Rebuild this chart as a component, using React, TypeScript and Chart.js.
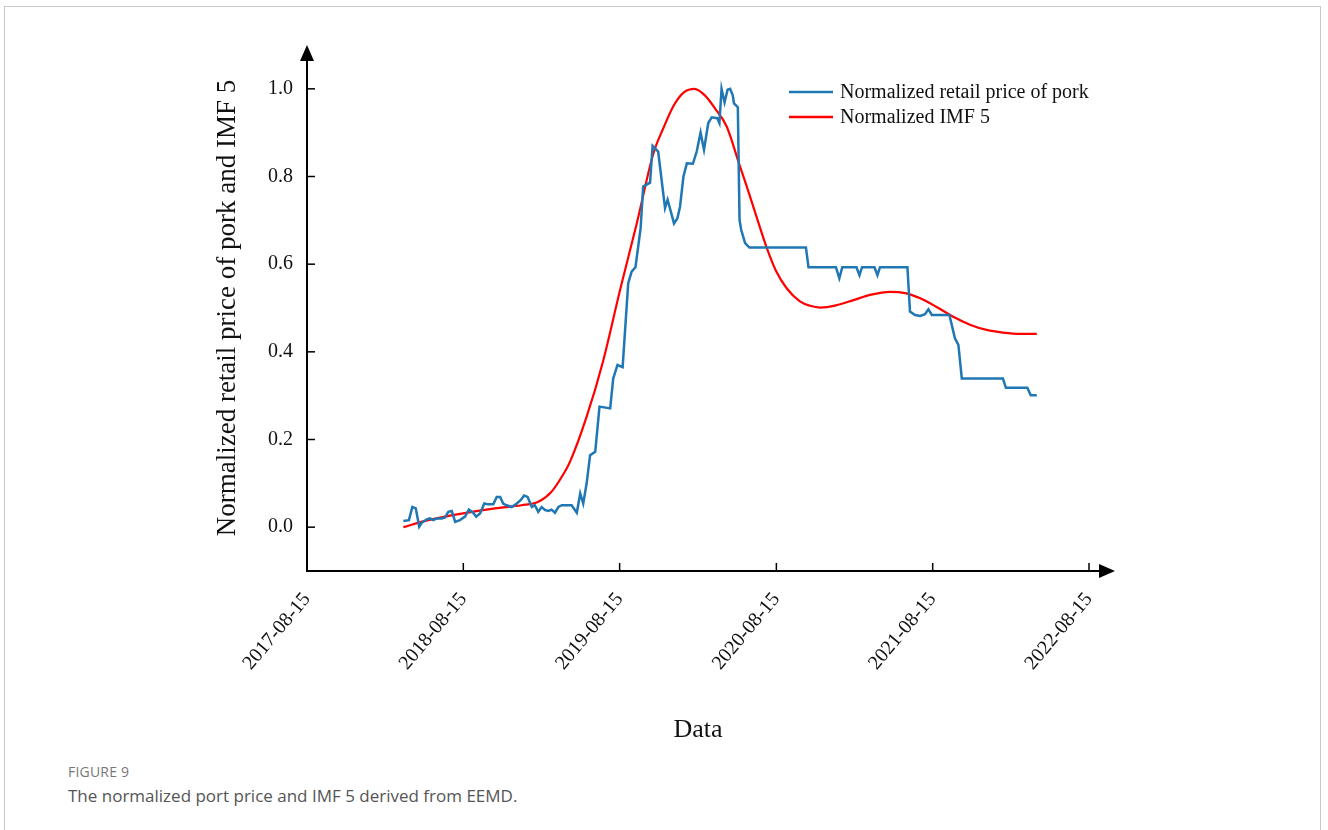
import React, { useEffect, useRef } from "react";
import { Chart, registerables } from "chart.js";

Chart.register(...registerables);

const START_DATE = "2017-08-15";
const xTickLabels = ["2017-08-15", "2018-08-15", "2019-08-15", "2020-08-15", "2021-08-15", "2022-08-15"];
const yTickValues = [0, 0.2, 0.4, 0.6, 0.8, 1.0];
const seriesLabels = ["Normalized retail price of pork", "Normalized IMF 5"];
const seriesColors = ["#1f77b4", "#ff0000"];
const xTitle = "Data";
const yTitle = "Normalized retail price of pork and IMF 5";

const priceDates = [
  "2018-03-28", "2018-04-10", "2018-04-18", "2018-04-26", "2018-05-04", "2018-05-10", "2018-05-22", "2018-05-29",
  "2018-06-06", "2018-06-14", "2018-06-26", "2018-07-03", "2018-07-11", "2018-07-19", "2018-07-27", "2018-08-07",
  "2018-08-19", "2018-08-28", "2018-09-07", "2018-09-14", "2018-09-23", "2018-10-03", "2018-10-12", "2018-10-24",
  "2018-11-01", "2018-11-09", "2018-11-16", "2018-11-24", "2018-12-06", "2018-12-18", "2018-12-28", "2019-01-04",
  "2019-01-12", "2019-01-22", "2019-01-29", "2019-02-06", "2019-02-14", "2019-02-22", "2019-03-02", "2019-03-09",
  "2019-03-17", "2019-03-25", "2019-04-02", "2019-04-25", "2019-05-07", "2019-05-15", "2019-05-22", "2019-05-30",
  "2019-06-07", "2019-06-19", "2019-06-29", "2019-07-24", "2019-07-31", "2019-08-10", "2019-08-22", "2019-09-04",
  "2019-09-12", "2019-09-21", "2019-10-03", "2019-10-09", "2019-10-25", "2019-10-31", "2019-11-13", "2019-11-29",
  "2019-12-05", "2019-12-20", "2019-12-28", "2020-01-03", "2020-01-11", "2020-01-19", "2020-02-02", "2020-02-11",
  "2020-02-20", "2020-02-28", "2020-03-09", "2020-03-17", "2020-03-30", "2020-04-04", "2020-04-09", "2020-04-16",
  "2020-04-23", "2020-04-29", "2020-05-05", "2020-05-08", "2020-05-17", "2020-05-21", "2020-05-25", "2020-06-03",
  "2020-06-13", "2020-10-23", "2020-10-29", "2021-01-01", "2021-01-09", "2021-01-16", "2021-02-18", "2021-02-25",
  "2021-03-03", "2021-04-01", "2021-04-08", "2021-04-14", "2021-06-17", "2021-06-23", "2021-07-05", "2021-07-17",
  "2021-07-28", "2021-08-05", "2021-08-13", "2021-09-23", "2021-10-06", "2021-10-14", "2021-10-22", "2022-01-26",
  "2022-02-02", "2022-03-24", "2022-04-01", "2022-04-15",
];
const priceValues = [
  0.014, 0.016, 0.046, 0.043, 0.001, 0.010, 0.018, 0.020,
  0.016, 0.020, 0.020, 0.022, 0.035, 0.037, 0.012, 0.016,
  0.024, 0.040, 0.033, 0.024, 0.031, 0.054, 0.052, 0.052,
  0.069, 0.069, 0.054, 0.050, 0.046, 0.054, 0.063, 0.072,
  0.069, 0.046, 0.050, 0.035, 0.046, 0.039, 0.037, 0.040,
  0.033, 0.046, 0.050, 0.050, 0.033, 0.077, 0.054, 0.100,
  0.164, 0.172, 0.275, 0.271, 0.339, 0.370, 0.365, 0.556,
  0.583, 0.593, 0.682, 0.777, 0.786, 0.870, 0.857, 0.728,
  0.747, 0.693, 0.705, 0.731, 0.800, 0.830, 0.829, 0.857,
  0.900, 0.861, 0.922, 0.935, 0.933, 0.922, 1.000, 0.969,
  0.998, 1.000, 0.986, 0.967, 0.958, 0.701, 0.678, 0.648,
  0.638, 0.638, 0.593, 0.593, 0.568, 0.593, 0.593, 0.575,
  0.593, 0.593, 0.575, 0.593, 0.593, 0.492, 0.484, 0.482,
  0.486, 0.497, 0.484, 0.484, 0.431, 0.416, 0.339, 0.339,
  0.318, 0.318, 0.301, 0.301,
];

const imfDates = [
  "2018-03-28", "2018-05-25", "2018-08-11", "2018-10-28", "2018-12-29", "2019-02-06", "2019-03-09", "2019-04-02",
  "2019-04-21", "2019-05-30", "2019-07-08", "2019-08-16", "2019-09-24", "2019-11-02", "2019-11-25", "2019-12-20",
  "2020-01-12", "2020-02-06", "2020-03-01", "2020-03-25", "2020-04-21", "2020-05-22", "2020-06-07", "2020-06-29",
  "2020-07-24", "2020-08-14", "2020-09-08", "2020-10-09", "2020-11-02", "2020-11-25", "2021-01-01", "2021-02-11",
  "2021-03-22", "2021-05-08", "2021-06-12", "2021-07-17", "2021-08-23", "2021-10-02", "2021-11-10", "2021-12-19",
  "2022-01-26", "2022-03-07", "2022-04-15",
];
const imfValues = [
  0.000, 0.016, 0.031, 0.043, 0.050, 0.058, 0.081, 0.115,
  0.149, 0.252, 0.381, 0.541, 0.693, 0.853, 0.910, 0.963,
  0.992, 1.000, 0.985, 0.955, 0.914, 0.823, 0.777, 0.710,
  0.636, 0.585, 0.545, 0.515, 0.505, 0.501, 0.506, 0.518,
  0.530, 0.537, 0.534, 0.522, 0.503, 0.480, 0.462, 0.450,
  0.444, 0.441, 0.441,
];

const dayOf = (s: string) => Math.round((Date.parse(s) - Date.parse(START_DATE)) / 86400000);
const xTickValues = xTickLabels.map(dayOf);
const SERIF = "'Liberation Serif', 'Times New Roman', Times, serif";

const axesPlugin = {
  id: "axesArrows",
  afterDraw(chart: any) {
    const { ctx, chartArea, scales } = chart;
    const xs = scales.x;
    const ys = scales.y;
    const x0 = chartArea.left;
    const yb = chartArea.bottom;
    ctx.save();
    ctx.strokeStyle = "#000";
    ctx.fillStyle = "#000";
    ctx.lineWidth = 2;
    // y axis + arrow
    ctx.beginPath();
    ctx.moveTo(x0, yb);
    ctx.lineTo(x0, chartArea.top + 12);
    ctx.stroke();
    ctx.beginPath();
    ctx.moveTo(x0, chartArea.top);
    ctx.lineTo(x0 - 7, chartArea.top + 16);
    ctx.lineTo(x0 + 7, chartArea.top + 16);
    ctx.closePath();
    ctx.fill();
    // x axis + arrow
    const xEnd = chartArea.right + 26;
    ctx.beginPath();
    ctx.moveTo(x0 - 1, yb);
    ctx.lineTo(xEnd - 12, yb);
    ctx.stroke();
    ctx.beginPath();
    ctx.moveTo(xEnd, yb);
    ctx.lineTo(xEnd - 16, yb - 7);
    ctx.lineTo(xEnd - 16, yb + 7);
    ctx.closePath();
    ctx.fill();
    // inward ticks
    ctx.lineWidth = 1.5;
    yTickValues.forEach((v) => {
      const py = ys.getPixelForValue(v);
      ctx.beginPath();
      ctx.moveTo(x0, py);
      ctx.lineTo(x0 + 8, py);
      ctx.stroke();
    });
    xTickValues.forEach((v) => {
      const px = xs.getPixelForValue(v);
      ctx.beginPath();
      ctx.moveTo(px, yb);
      ctx.lineTo(px, yb - 8);
      ctx.stroke();
    });
    // legend
    const lx = chartArea.left + 482;
    const ly = chartArea.top + 47;
    ctx.font = `20px ${SERIF}`;
    ctx.textBaseline = "middle";
    ctx.textAlign = "left";
    seriesLabels.forEach((label, i) => {
      const y = ly + i * 25;
      ctx.strokeStyle = seriesColors[i];
      ctx.lineWidth = 2.5;
      ctx.beginPath();
      ctx.moveTo(lx, y);
      ctx.lineTo(lx + 44, y);
      ctx.stroke();
      ctx.fillStyle = "#111";
      ctx.fillText(label, lx + 51, y + 1);
    });
    ctx.restore();
  },
};

export default function App() {
  const canvasRef = useRef<HTMLCanvasElement | null>(null);

  useEffect(() => {
    if (!canvasRef.current) return;
    const priceData = priceDates.map((d, i) => ({ x: dayOf(d), y: priceValues[i] }));
    const imfData = imfDates.map((d, i) => ({ x: dayOf(d), y: imfValues[i] }));
    const chart = new Chart(canvasRef.current, {
      type: "line",
      data: {
        datasets: [
          {
            label: seriesLabels[0],
            data: priceData,
            borderColor: seriesColors[0],
            borderWidth: 2.5,
            pointRadius: 0,
            tension: 0,
            fill: false,
          },
          {
            label: seriesLabels[1],
            data: imfData,
            borderColor: seriesColors[1],
            borderWidth: 2.2,
            pointRadius: 0,
            cubicInterpolationMode: "monotone",
            fill: false,
          },
        ],
      },
      options: {
        animation: false,
        responsive: false,
        devicePixelRatio: 1,
        layout: { padding: { left: 0, right: 239, top: 45, bottom: 0 } },
        plugins: { legend: { display: false }, tooltip: { enabled: false } },
        scales: {
          x: {
            type: "linear",
            min: 0,
            max: dayOf("2022-08-15"),
            grid: { display: false, drawTicks: false },
            border: { display: false },
            afterFit: (s: any) => {
              s.height = 189;
            },
            afterBuildTicks: (s: any) => {
              s.ticks = xTickValues.map((v) => ({ value: v }));
            },
            ticks: {
              autoSkip: false,
              minRotation: 50,
              maxRotation: 50,
              padding: 17,
              color: "#111",
              font: { family: SERIF, size: 20 },
              callback: (_v: any, i: number) => xTickLabels[i],
            },
            title: {
              display: true,
              text: xTitle,
              color: "#111",
              font: { family: SERIF, size: 26 },
              padding: { top: 0, bottom: 14 },
            },
          },
          y: {
            type: "linear",
            min: -0.1,
            max: 1.1,
            grid: { display: false, drawTicks: false },
            border: { display: false },
            afterFit: (s: any) => {
              s.width = 307;
            },
            afterBuildTicks: (s: any) => {
              s.ticks = yTickValues.map((v) => ({ value: v }));
            },
            ticks: {
              padding: 14,
              color: "#111",
              font: { family: SERIF, size: 20 },
              callback: (v: any) => Number(v).toFixed(1),
            },
            title: {
              display: true,
              text: yTitle,
              color: "#111",
              font: { family: SERIF, size: 27 },
              padding: { top: 212, bottom: 0 },
            },
          },
        },
      },
      plugins: [axesPlugin],
    });
    return () => chart.destroy();
  }, []);

  return (
    <div style={{ position: "absolute", left: 0, top: 0, width: 1328, height: 830, overflow: "hidden", background: "#fff" }}>
      <div
        style={{
          position: "absolute",
          left: 4,
          top: 6,
          width: 1317,
          height: 900,
          border: "1px solid #c9c9c9",
          boxSizing: "border-box",
        }}
      />
      <canvas
        ref={canvasRef}
        width={1328}
        height={760}
        style={{ position: "absolute", left: 0, top: 0, width: 1328, height: 760 }}
      />
      <div
        style={{
          position: "absolute",
          left: 68,
          top: 762,
          fontFamily: "'Open Sans', 'Noto Sans', sans-serif",
          fontSize: 14,
          color: "#777",
          letterSpacing: 0.2,
        }}
      >
        FIGURE 9
      </div>
      <div
        style={{
          position: "absolute",
          left: 68,
          top: 784,
          fontFamily: "'Open Sans', 'Noto Sans', sans-serif",
          fontSize: 17,
          color: "#555",
        }}
      >
        The normalized port price and IMF 5 derived from EEMD.
      </div>
    </div>
  );
}
